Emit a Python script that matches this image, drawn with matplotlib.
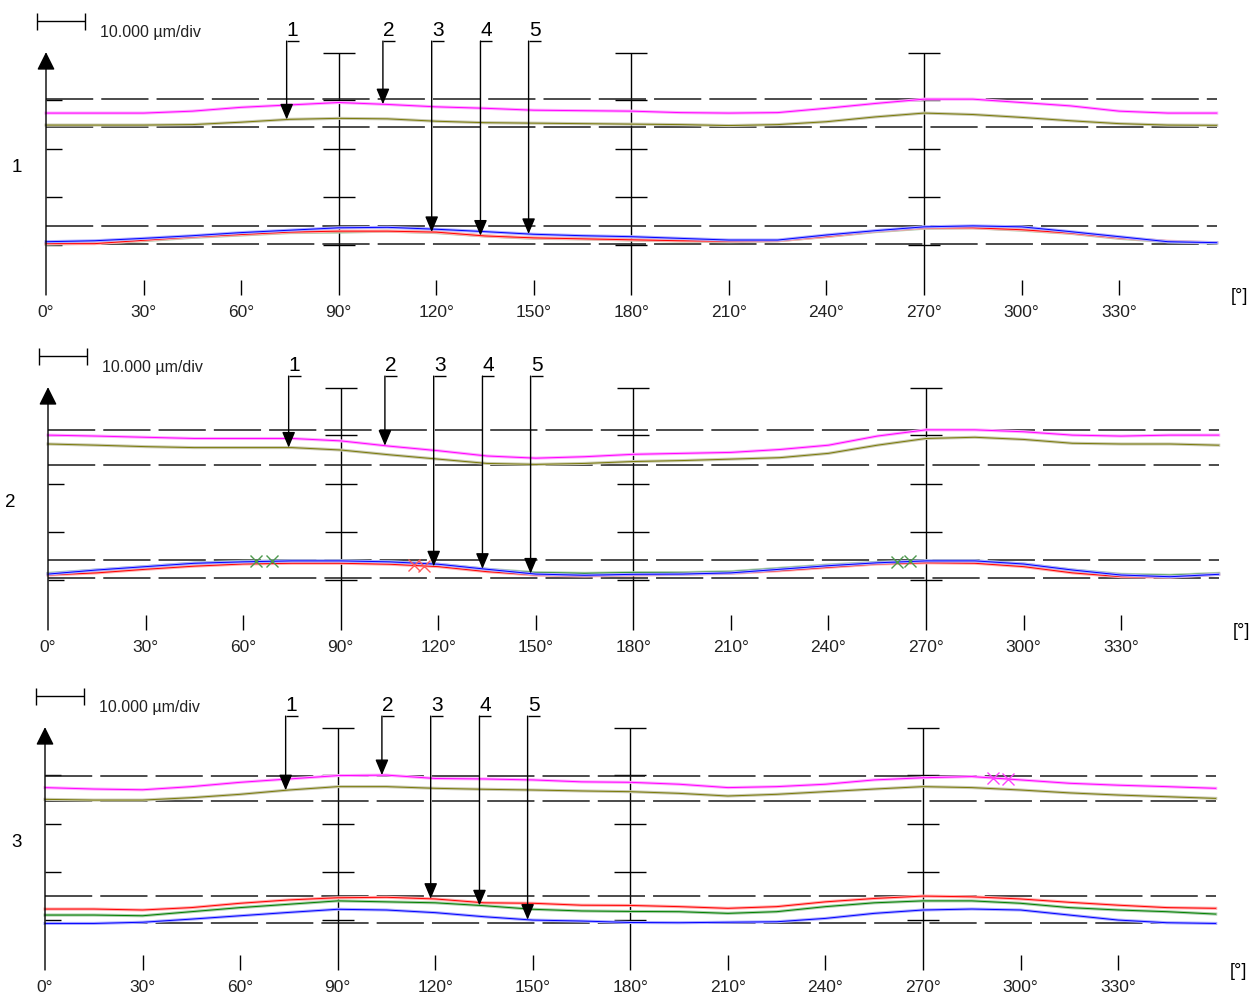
import numpy as np
import matplotlib.pyplot as plt

plt.rcParams['font.family'] = ['Liberation Sans', 'DejaVu Sans']
plt.rcParams['lines.scale_dashes'] = False

# angle grid of the traces (deg)
angles = np.arange(0, 361, 15)
major_angles = [90, 180, 270]
minor_angles = [30, 60, 120, 150, 210, 240, 300, 330]
label_angles = list(range(0, 360, 30))
scale_text = "10.000 µm/div"

# probe arrows: angle and the trace each one points at
arrow_angles = [74.0, 103.6, 118.6, 133.6, 148.4]
arrow_targets = ["olive", "magenta", "red", "green", "blue"]

# y grid (µm) of the cross bars
grid_levels = [10.4, 20.4, 30.5, 40.6]
grid_top = 50.5

# ---- section 1 (µm) ----
p1_magenta = [37.9, 37.9, 37.9, 38.3, 39.1, 39.6, 40.1, 39.7, 39.2, 38.9, 38.5, 38.4, 38.3,
              38.0, 37.9, 38.0, 38.9, 39.9, 40.8, 40.8, 40.1, 39.4, 38.3, 37.9, 37.9]
p1_olive = [35.4, 35.4, 35.4, 35.5, 36.0, 36.6, 36.8, 36.7, 36.2, 35.9, 35.8, 35.7, 35.6,
            35.5, 35.3, 35.5, 36.1, 37.1, 37.9, 37.6, 37.0, 36.3, 35.7, 35.4, 35.35]
p1_red = [10.7, 10.7, 11.4, 12.1, 12.6, 13.1, 13.3, 13.3, 13.1, 12.3, 11.9, 11.7, 11.5,
          11.3, 11.2, 11.3, 12.2, 13.3, 14.0, 14.0, 13.6, 12.9, 11.9, 11.2, 10.9]
p1_green = [10.6, 10.8, 11.3, 12.0, 12.5, 13.0, 13.1, 13.3, 13.0, 12.3, 11.8, 11.7, 11.45,
            11.25, 11.1, 11.3, 12.15, 13.2, 13.9, 14.0, 13.5, 12.85, 11.8, 11.1, 10.8]
p1_blue = [11.1, 11.3, 11.8, 12.35, 13.0, 13.5, 14.0, 14.1, 13.7, 13.2, 12.65, 12.35, 12.15,
           11.8, 11.45, 11.45, 12.5, 13.4, 14.2, 14.4, 14.2, 13.2, 12.15, 11.1, 10.9]
p1_bands = [40.8, 35.0, 14.4, 10.6]

# ---- section 2 (µm) ----
p2_magenta = [40.6, 40.4, 40.15, 39.9, 39.9, 39.9, 39.4, 38.3, 37.35, 36.25, 35.8, 36.1, 36.6,
              36.8, 37.0, 37.6, 38.5, 40.4, 41.7, 41.7, 41.3, 40.6, 40.4, 40.6, 40.6]
p2_olive = [38.75, 38.5, 38.2, 38.0, 38.0, 38.0, 37.5, 36.5, 35.6, 34.7, 34.5, 34.7, 35.1,
            35.3, 35.6, 35.9, 36.8, 38.5, 39.9, 40.15, 39.7, 38.9, 38.75, 38.75, 38.5]
p2_red = [11.45, 11.9, 12.65, 13.3, 13.75, 13.9, 13.9, 13.7, 13.2, 12.15, 11.45, 11.25, 11.45,
          11.6, 11.8, 12.35, 13.05, 13.75, 14.0, 13.9, 13.2, 11.9, 11.1, 11.0, 11.6]
p2_green = [11.8, 12.5, 13.2, 13.95, 14.3, 14.4, 14.4, 14.2, 13.7, 12.65, 11.95, 11.8, 11.95,
            11.95, 12.15, 12.85, 13.55, 14.1, 14.4, 14.4, 13.75, 12.5, 11.6, 11.4, 11.8]
p2_blue = [11.65, 12.5, 13.2, 13.9, 14.2, 14.4, 14.4, 14.2, 13.7, 12.65, 11.65, 11.4, 11.6,
           11.65, 11.9, 12.65, 13.4, 14.0, 14.4, 14.4, 13.75, 12.5, 11.45, 11.1, 11.6]
p2_bands = [41.7, 34.4, 14.6, 10.8]
p2_marks = [("green", [64.0, 69.0]), ("red", [112.5, 115.5]), ("green", [261.0, 265.0])]

# ---- section 3 (µm) ----
p3_magenta = [38.0, 37.7, 37.55, 38.2, 39.1, 39.8, 40.5, 40.6, 39.9, 39.8, 39.6, 39.2, 39.1,
              38.7, 38.0, 38.2, 38.7, 39.6, 40.05, 40.3, 39.6, 38.9, 38.5, 38.2, 37.85]
p3_olive = [35.55, 35.4, 35.4, 35.9, 36.6, 37.5, 38.2, 38.2, 37.85, 37.65, 37.5, 37.3, 37.15,
            36.8, 36.25, 36.6, 37.15, 37.7, 38.2, 38.0, 37.5, 36.9, 36.45, 36.1, 35.75]
p3_red = [12.7, 12.7, 12.5, 13.0, 13.9, 14.6, 15.05, 15.15, 14.8, 14.0, 13.9, 13.5, 13.45,
          13.2, 12.85, 13.2, 14.2, 14.9, 15.4, 15.25, 14.8, 14.1, 13.5, 13.0, 12.85]
p3_green = [11.45, 11.45, 11.3, 12.15, 13.0, 13.7, 14.4, 14.2, 14.0, 13.4, 12.65, 12.3, 12.2,
            12.15, 11.8, 12.15, 13.2, 14.0, 14.4, 14.4, 13.9, 13.0, 12.5, 12.15, 11.65]
p3_blue = [9.7, 9.7, 9.95, 10.6, 11.3, 12.0, 12.65, 12.5, 11.95, 11.1, 10.4, 10.2, 9.9,
           9.85, 9.95, 10.05, 10.75, 11.8, 12.5, 12.7, 12.5, 11.45, 10.4, 9.85, 9.7]
p3_bands = [40.5, 35.3, 15.4, 9.7]
p3_marks = [("magenta", [291.5, 296.0])]

styles = {
    "olive": ("#7a7a08", "#c9c9b2"),
    "magenta": ("#ff00ff", "#ffa8ff"),
    "green": ("#008000", "#a9cca9"),
    "red": ("#ff0000", "#ffabab"),
    "blue": ("#0000ff", "#ababff"),
}
mark_colors = {"green": "#4d9a4d", "red": "#ff5a5a", "magenta": "#ff40ff"}

sections = [
    ("1", {"olive": p1_olive, "magenta": p1_magenta, "green": p1_green, "red": p1_red, "blue": p1_blue}, p1_bands, []),
    ("2", {"olive": p2_olive, "magenta": p2_magenta, "green": p2_green, "red": p2_red, "blue": p2_blue}, p2_bands, p2_marks),
    ("3", {"olive": p3_olive, "magenta": p3_magenta, "green": p3_green, "red": p3_red, "blue": p3_blue}, p3_bands, p3_marks),
]

# layout in pixels
W, H = 1251, 996
px_deg = 3.252
px_um = 4.8
axis_px = [295, 630, 970]
left_px = [46, 48, 45]
label_off = [-8.9, -11.7, -8.9]
ymin, ymax = -7, 60

fig = plt.figure(figsize=(W / 100, H / 100), dpi=100)

for i, (name, curves, bands, marks) in enumerate(sections):
    bottom_px = axis_px[i] - ymin * px_um
    ax = fig.add_axes([left_px[i] / W, (H - bottom_px) / H,
                       360 * px_deg / W, (ymax - ymin) * px_um / H])
    ax.set_xlim(0, 360)
    ax.set_ylim(ymin, ymax)
    ax.axis('off')

    k = dict(color='black', lw=1.0, clip_on=False, solid_capstyle='butt')
    bar_w = 16 / px_deg

    # axes with arrow heads
    ax.annotate('', xy=(0, grid_top + 0.1), xytext=(0, 0),
                arrowprops=dict(arrowstyle='-|>,head_length=1.1,head_width=0.55',
                                mutation_scale=10, color='black', lw=1.0, shrinkA=0, shrinkB=0))
    ax.annotate('', xy=(360.5, 0), xytext=(0, 0),
                arrowprops=dict(arrowstyle='-|>,head_length=1.35,head_width=0.55',
                                mutation_scale=10, color='black', lw=1.0, shrinkA=0, shrinkB=0))
    ax.text(367, -0.4, "[°]", fontsize=13, ha='center', va='center')

    for lv in grid_levels:
        ax.plot([0, bar_w], [lv, lv], **k)
    for a in major_angles:
        ax.plot([a, a], [0, grid_top], **k)
        for lv in grid_levels + [grid_top]:
            ax.plot([a - bar_w, a + bar_w], [lv, lv], **k)
    for a in minor_angles:
        ax.plot([a, a], [0, 15 / px_um], **k)
    for a in label_angles:
        ax.text(a, -3.6, f"{a}°", fontsize=12.5, ha='center', va='center', color='#222222')

    # tolerance band lines
    for b in bands:
        ax.plot([0, 360], [b, b], color='#1a1a1a', lw=1.1, dashes=(34, 5.8), clip_on=False)

    # traces
    for cname in ["olive", "magenta", "green", "red", "blue"]:
        core, halo = styles[cname]
        ax.plot(angles, curves[cname], color=halo, lw=2.2, clip_on=False, solid_joinstyle='round')
        ax.plot(angles, curves[cname], color=core, lw=0.7, clip_on=False)

    for cname, xs in marks:
        ys = np.interp(xs, angles, curves[cname])
        ax.plot(xs, ys, ls='none', marker='x', ms=8, mew=1.0, color=mark_colors[cname], clip_on=False)

    # probe arrows
    for n, (a, tgt) in enumerate(zip(arrow_angles, arrow_targets)):
        tip = np.interp(a, angles, curves[tgt])
        ax.plot([a, a + 12 / px_deg], [52.9, 52.9], **k)
        ax.annotate('', xy=(a, tip), xytext=(a, 52.9),
                    arrowprops=dict(arrowstyle='-|>,head_length=0.95,head_width=0.4',
                                    mutation_scale=10, color='black', lw=1.0, shrinkA=0, shrinkB=0))
        ax.text(a + 6 / px_deg, 53.9, str(n + 1), fontsize=15, ha='center', va='baseline')

    # scale bar
    sx0 = -9 / px_deg
    sx1 = sx0 + 10 * px_um / px_deg
    ax.plot([sx0, sx1], [57.0, 57.0], **k)
    for sx in (sx0, sx1):
        ax.plot([sx, sx], [55.3, 58.7], **k)
    ax.text(16.6, 54.6, scale_text, fontsize=11.5, ha='left', va='center', color='#222222')

    ax.text(label_off[i], 26.5, name, fontsize=13.5, ha='center', va='center')

fig.savefig("out.png", dpi=100)
